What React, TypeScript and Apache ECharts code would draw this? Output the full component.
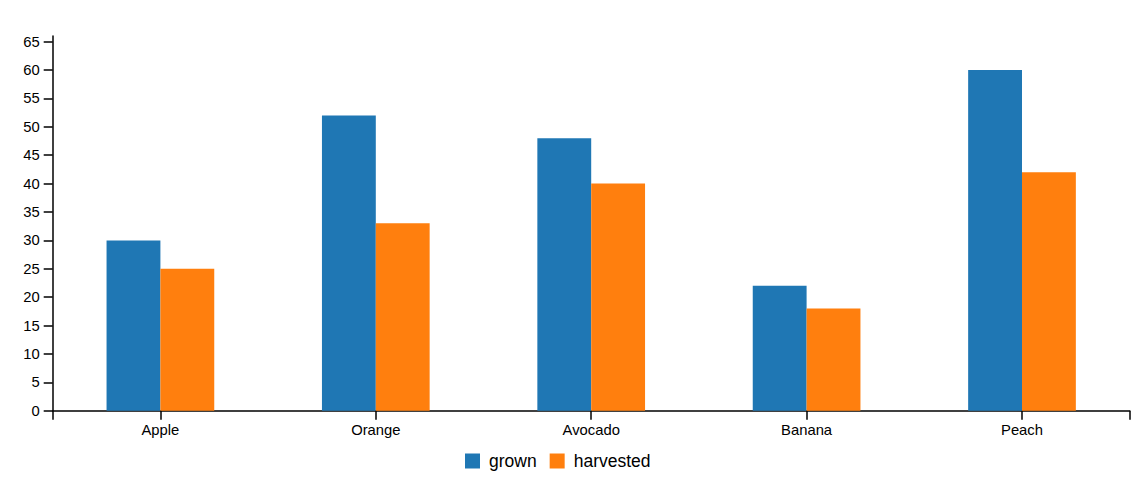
import React, { useEffect, useRef } from "react";
import * as echarts from "echarts";

const categories = ["Apple", "Orange", "Avocado", "Banana", "Peach"];
const grown = [30, 52, 48, 22, 60];
const harvested = [25, 33, 40, 18, 42];
const seriesNames = ["grown", "harvested"];
const yMax = 66;
const yStep = 5;

const FONT = 'Arial, "Liberation Sans", sans-serif';

export default function App() {
  const ref = useRef<HTMLDivElement>(null);
  useEffect(() => {
    if (!ref.current) return;
    const chart = echarts.init(ref.current, undefined, { renderer: "svg" });
    chart.setOption({
      animation: false,
      textStyle: { fontFamily: FONT },
      grid: { left: 52.7, right: 14.3, top: 36, bottom: 72.3, containLabel: false },
      legend: {
        data: seriesNames,
        left: 465,
        top: 452,
        padding: 0,
        itemWidth: 15,
        itemHeight: 15,
        itemGap: 13,
        icon: "rect",
        textStyle: { fontSize: 17.5, color: "#000", fontFamily: FONT, padding: [0, 0, 0, 4] },
      },
      xAxis: [
        {
          type: "category",
          data: categories,
          boundaryGap: true,
          axisLine: { show: true, lineStyle: { color: "#000", width: 1.5 } },
          axisTick: { show: true, alignWithLabel: true, length: 9, lineStyle: { color: "#000", width: 1.5 } },
          axisLabel: { color: "#000", fontSize: 14.8, fontFamily: FONT, margin: 12, interval: 0 },
          splitLine: { show: false },
        },
        {
          type: "value",
          position: "bottom",
          min: 0,
          max: 1,
          interval: 1,
          axisLine: { show: false },
          axisTick: { show: true, length: 9, lineStyle: { color: "#000", width: 1.5 } },
          axisLabel: { show: false },
          splitLine: { show: false },
        },
      ],
      yAxis: {
        type: "value",
        min: 0,
        max: yMax,
        interval: yStep,
        axisLine: { show: true, lineStyle: { color: "#000", width: 1.5 } },
        axisTick: { show: true, length: 9, lineStyle: { color: "#000", width: 1.5 } },
        axisLabel: {
          color: "#000",
          fontSize: 14.8,
          fontFamily: FONT,
          margin: 13,
          showMaxLabel: false,
          formatter: (v: number) => (v % yStep === 0 ? String(v) : ""),
        },
        splitLine: { show: false },
      },
      series: [
        {
          name: seriesNames[0],
          type: "bar",
          data: grown,
          xAxisIndex: 0,
          barWidth: "25%",
          barGap: "0%",
          itemStyle: { color: "#1f77b4" },
        },
        {
          name: seriesNames[1],
          type: "bar",
          data: harvested,
          xAxisIndex: 0,
          barWidth: "25%",
          barGap: "0%",
          itemStyle: { color: "#ff7f0e" },
        },
      ],
    });
    return () => chart.dispose();
  }, []);
  return (
    <div
      ref={ref}
      style={{ position: "fixed", left: 0, top: 0, width: 1144, height: 483, background: "#fff" }}
    />
  );
}
